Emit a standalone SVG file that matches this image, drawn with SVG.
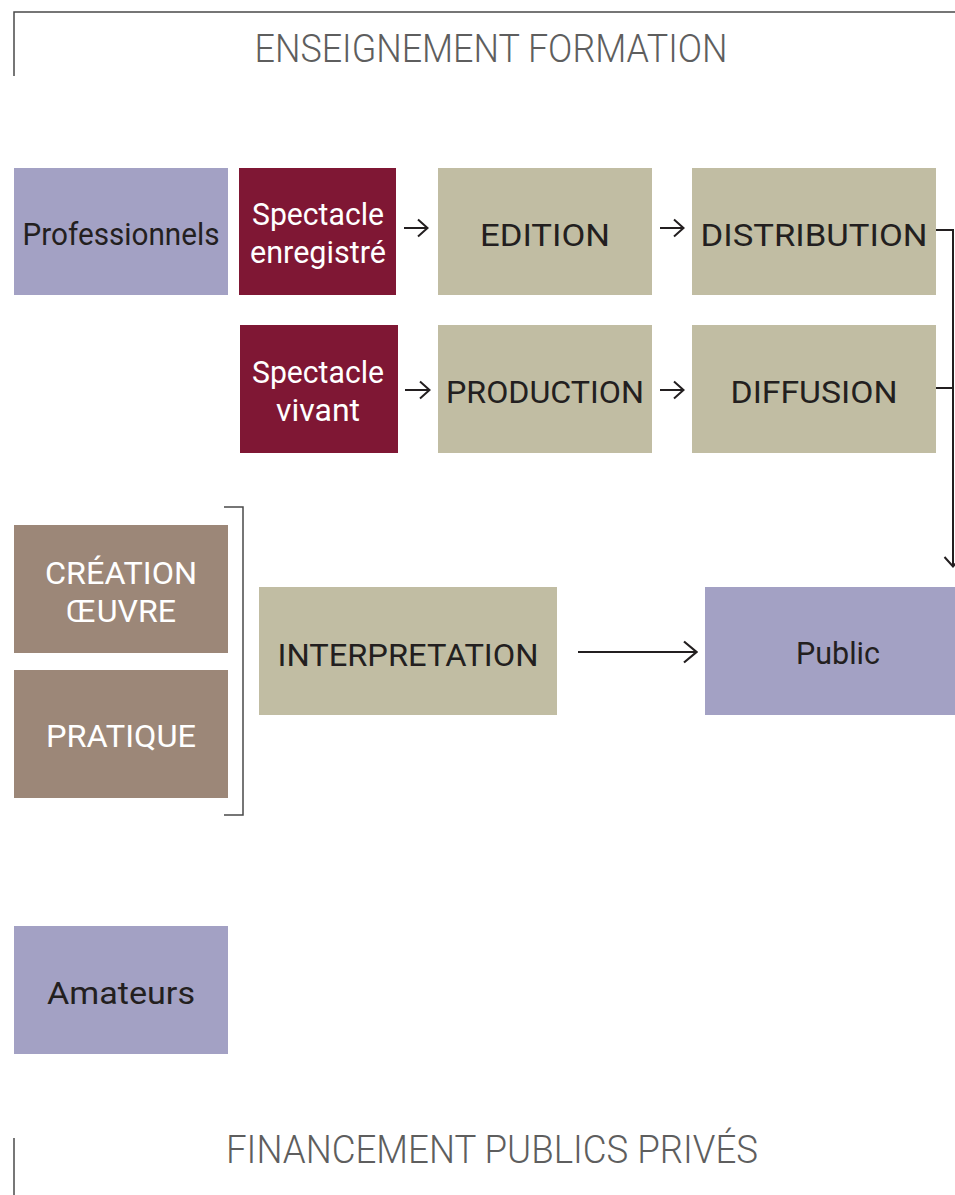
<svg xmlns="http://www.w3.org/2000/svg" width="955" height="1195" viewBox="0 0 955 1195">
<style>
.lav{fill:#a3a1c4}.wine{fill:#7f1734}.khaki{fill:#c1bda3}.taupe{fill:#9c8778}
text{font-family:Roboto,"Noto Sans","DejaVu Sans",sans-serif;text-anchor:middle}
.dk{fill:#231f20;font-size:32px}
.wh{fill:#ffffff;font-size:32px}
.hd{fill:#5e5e5e;font-size:38px;font-weight:300}
.ln{fill:none;stroke:#231f20;stroke-width:2}
.fr{fill:none;stroke:#4a4a4a;stroke-width:1.5}
</style>
<defs>
<marker id="ah" viewBox="0 0 12 20" refX="11" refY="10" markerWidth="12" markerHeight="20" markerUnits="userSpaceOnUse" orient="auto">
<path d="M1,1.5 L10.5,10 L1,18.5" fill="none" stroke="#231f20" stroke-width="2"/>
</marker>
<marker id="ahb" viewBox="0 0 15 24" refX="14" refY="12" markerWidth="15" markerHeight="24" markerUnits="userSpaceOnUse" orient="auto">
<path d="M1,1.5 L13.5,12 L1,22.5" fill="none" stroke="#231f20" stroke-width="2.2"/>
</marker>
</defs>
<g id="frame-top">
<path class="fr" d="M14,76 V12 H955"/>
<text class="hd" x="491" y="62" textLength="473" lengthAdjust="spacingAndGlyphs">ENSEIGNEMENT FORMATION</text>
</g>
<g id="frame-bottom">
<path class="fr" d="M14,1138 V1195"/>
<text class="hd" x="492" y="1163" textLength="532" lengthAdjust="spacingAndGlyphs">FINANCEMENT PUBLICS PRIVÉS</text>
</g>
<g id="professionnels"><rect class="lav" x="14" y="168" width="214" height="127"/><text class="dk" x="121" y="245" textLength="197" lengthAdjust="spacingAndGlyphs">Professionnels</text></g>
<g id="spectacle-enregistre"><rect class="wine" x="239" y="168" width="157" height="127"/><text class="wh" x="318" y="225" textLength="132" lengthAdjust="spacingAndGlyphs">Spectacle</text><text class="wh" x="318" y="263" textLength="136" lengthAdjust="spacingAndGlyphs">enregistré</text></g>
<g id="edition"><rect class="khaki" x="438" y="168" width="214" height="127"/><text class="dk" x="545" y="246" textLength="130" lengthAdjust="spacingAndGlyphs">EDITION</text></g>
<g id="distribution"><rect class="khaki" x="692" y="168" width="244" height="127"/><text class="dk" x="814" y="246" textLength="227" lengthAdjust="spacingAndGlyphs">DISTRIBUTION</text></g>
<g id="spectacle-vivant"><rect class="wine" x="240" y="325" width="158" height="128"/><text class="wh" x="318" y="383" textLength="132" lengthAdjust="spacingAndGlyphs">Spectacle</text><text class="wh" x="318" y="421" textLength="84" lengthAdjust="spacingAndGlyphs">vivant</text></g>
<g id="production"><rect class="khaki" x="438" y="325" width="214" height="128"/><text class="dk" x="545" y="403" textLength="198" lengthAdjust="spacingAndGlyphs">PRODUCTION</text></g>
<g id="diffusion"><rect class="khaki" x="692" y="325" width="244" height="128"/><text class="dk" x="814" y="403" textLength="167" lengthAdjust="spacingAndGlyphs">DIFFUSION</text></g>
<g id="creation-oeuvre"><rect class="taupe" x="14" y="525" width="214" height="128"/><text class="wh" x="121" y="584" textLength="152" lengthAdjust="spacingAndGlyphs">CRÉATION</text><text class="wh" x="121" y="622" textLength="110" lengthAdjust="spacingAndGlyphs">ŒUVRE</text></g>
<g id="pratique"><rect class="taupe" x="14" y="670" width="214" height="128"/><text class="wh" x="121" y="747" textLength="150" lengthAdjust="spacingAndGlyphs">PRATIQUE</text></g>
<g id="interpretation"><rect class="khaki" x="259" y="587" width="298" height="128"/><text class="dk" x="408" y="666" textLength="261" lengthAdjust="spacingAndGlyphs">INTERPRETATION</text></g>
<g id="public"><rect class="lav" x="705" y="587" width="250" height="128"/><text class="dk" x="838" y="664" textLength="84" lengthAdjust="spacingAndGlyphs">Public</text></g>
<g id="amateurs"><rect class="lav" x="14" y="926" width="214" height="128"/><text class="dk" x="121" y="1004" textLength="148" lengthAdjust="spacingAndGlyphs">Amateurs</text></g>
<g id="connectors">
<path class="ln" d="M404,228 H428" marker-end="url(#ah)"/>
<path class="ln" d="M660,228 H684" marker-end="url(#ah)"/>
<path class="ln" d="M405,390 H430" marker-end="url(#ah)"/>
<path class="ln" d="M660,390 H684" marker-end="url(#ah)"/>
<path class="ln" d="M936,230 H953 V567" marker-end="url(#ah)"/>
<path class="ln" d="M936,388 H953"/>
<path class="ln" d="M578,652 H697" marker-end="url(#ahb)"/>
<path class="fr" d="M224,507 H243 V815 H224"/>
</g>
</svg>
